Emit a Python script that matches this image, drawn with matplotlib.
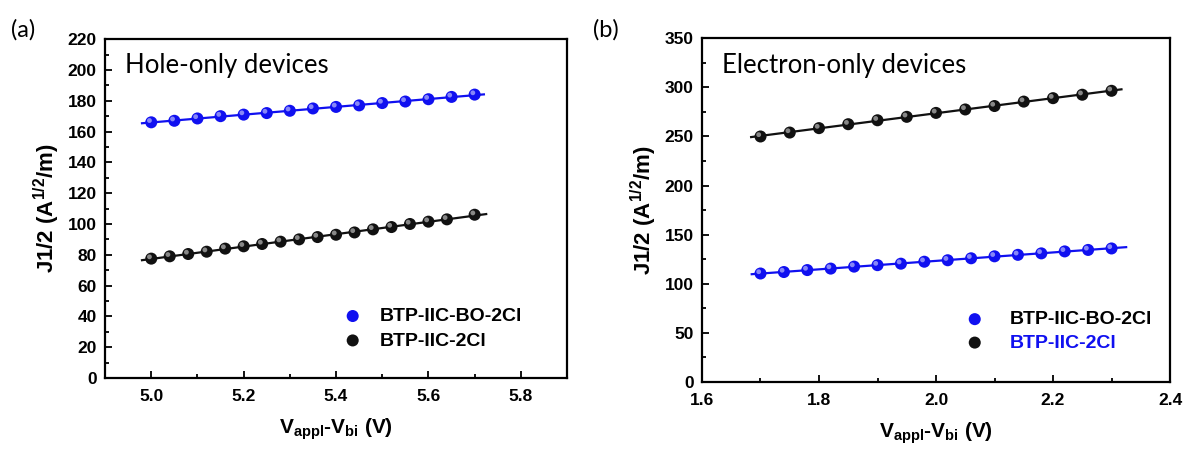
import matplotlib
matplotlib.use("Agg")
import matplotlib.pyplot as plt
import matplotlib.transforms as mtransforms
from matplotlib.ticker import MultipleLocator
import numpy as np

plt.rcParams['font.family'] = ['Liberation Sans', 'DejaVu Sans']
plt.rcParams['mathtext.fontset'] = 'custom'
plt.rcParams['mathtext.rm'] = 'Liberation Sans:bold'
plt.rcParams['mathtext.bf'] = 'Liberation Sans:bold'
plt.rcParams['mathtext.it'] = 'Liberation Sans:bold'

# (a) hole-only devices
hole_x_bo = [5.00, 5.05, 5.10, 5.15, 5.20, 5.25, 5.30, 5.35, 5.40, 5.45, 5.50, 5.55, 5.60, 5.65, 5.70]
hole_y_bo = [166, 167, 168.5, 170, 171, 172, 173.5, 175, 176, 177, 178.5, 179.5, 181, 182.5, 184]
hole_x_2cl = [5.00, 5.04, 5.08, 5.12, 5.16, 5.20, 5.24, 5.28, 5.32, 5.36, 5.40, 5.44, 5.48, 5.52, 5.56, 5.60, 5.64, 5.70]
hole_y_2cl = [77.5, 79, 80.5, 82, 84, 85.5, 87, 88.5, 90, 91.5, 93, 94.5, 96.5, 98, 100, 101.5, 103, 106]

# (b) electron-only devices
elec_x_bo = [1.70, 1.74, 1.78, 1.82, 1.86, 1.90, 1.94, 1.98, 2.02, 2.06, 2.10, 2.14, 2.18, 2.22, 2.26, 2.30]
elec_y_bo = [110.5, 112, 114, 115.5, 117.5, 119, 120.5, 122.5, 124, 126, 128, 129.5, 131, 133, 134.5, 136]
elec_x_2cl = [1.70, 1.75, 1.80, 1.85, 1.90, 1.95, 2.00, 2.05, 2.10, 2.15, 2.20, 2.25, 2.30]
elec_y_2cl = [250, 254, 258.5, 262.5, 266.5, 270, 274, 277.5, 281, 285.5, 289, 292.5, 296.5]

labels = ['BTP-IIC-BO-2Cl', 'BTP-IIC-2Cl']
blue = '#1010f0'
black = '#111111'


def sphere(ax, x, y, color, label=None):
    ax.scatter(x, y, s=75, color=color, zorder=3, label=label, edgecolors='none')
    hl = mtransforms.offset_copy(ax.transData, fig=ax.figure, x=-1.3, y=1.3, units='points')
    ax.scatter(x, y, s=12, color='white', alpha=0.5, zorder=4, edgecolors='none', transform=hl)


def fit_line(ax, x, y, x0, x1, color):
    k, b = np.polyfit(x, y, 1)
    xx = np.array([x0, x1])
    ax.plot(xx, k * xx + b, color=color, lw=1.6, zorder=2)


def style(ax, xlim, ylim, xmaj, ymaj):
    ax.set_xlim(*xlim)
    ax.set_ylim(*ylim)
    ax.xaxis.set_major_locator(MultipleLocator(xmaj))
    ax.xaxis.set_minor_locator(MultipleLocator(xmaj / 2))
    ax.yaxis.set_major_locator(MultipleLocator(ymaj))
    ax.yaxis.set_minor_locator(MultipleLocator(ymaj / 2))
    ax.tick_params(which='both', direction='in', width=1.3, labelsize=12.5)
    ax.tick_params(which='major', length=5)
    ax.tick_params(which='minor', length=3)
    ax.tick_params(axis='y', which='major', pad=6)
    ax.tick_params(axis='x', which='major', pad=8)
    for t in ax.get_xticklabels() + ax.get_yticklabels():
        t.set_fontweight('bold')
    for s in ax.spines.values():
        s.set_linewidth(1.6)
    ax.set_ylabel(r'J1/2 (A$^{1/2}$/m)', fontsize=16, fontweight='bold', labelpad=4)
    ax.set_xlabel(r'V$_{\mathrm{appl}}$-V$_{\mathrm{bi}}$ (V)', fontsize=15, fontweight='bold', labelpad=9)


fig = plt.figure(figsize=(11.87, 4.5), dpi=100)
ax1 = fig.add_axes([0.0885, 0.16, 0.3892, 0.753])
ax2 = fig.add_axes([0.5914, 0.151, 0.3943, 0.764])

# panel a
fit_line(ax1, hole_x_bo, hole_y_bo, 4.98, 5.72, blue)
fit_line(ax1, hole_x_2cl, hole_y_2cl, 4.98, 5.725, black)
sphere(ax1, hole_x_bo, hole_y_bo, blue, labels[0])
sphere(ax1, hole_x_2cl, hole_y_2cl, black, labels[1])
style(ax1, (4.9, 5.9), (0, 220), 0.2, 20)
ax1.text(0.043, 0.9, 'Hole-only devices', transform=ax1.transAxes, fontsize=18.5,
         family='Lato', va='baseline')
ax1.legend(loc='center left', bbox_to_anchor=(0.515, 0.146), frameon=False,
           borderpad=0, borderaxespad=0, handletextpad=0.9, labelspacing=0.35,
           handlelength=1.0, prop={'weight': 'bold', 'size': 14})

# panel b
fit_line(ax2, elec_x_2cl, elec_y_2cl, 1.684, 2.317, black)
fit_line(ax2, elec_x_bo, elec_y_bo, 1.685, 2.325, blue)
sphere(ax2, elec_x_bo, elec_y_bo, blue, labels[0])
sphere(ax2, elec_x_2cl, elec_y_2cl, black, labels[1])
style(ax2, (1.6, 2.4), (0, 350), 0.2, 50)
ax2.text(0.043, 0.898, 'Electron-only devices', transform=ax2.transAxes, fontsize=18.5,
         family='Lato', va='baseline')
leg2 = ax2.legend(loc='center left', bbox_to_anchor=(0.562, 0.148), frameon=False,
                  borderpad=0, borderaxespad=0, handletextpad=1.3, labelspacing=0.3,
                  handlelength=1.0, prop={'weight': 'bold', 'size': 14})
leg2.get_texts()[1].set_color(blue)

fig.text(0.009, 0.918, '(a)', fontsize=17, family='Lato', va='baseline')
fig.text(0.5, 0.918, '(b)', fontsize=17, family='Lato', va='baseline')

fig.savefig('out.png', dpi=100)
